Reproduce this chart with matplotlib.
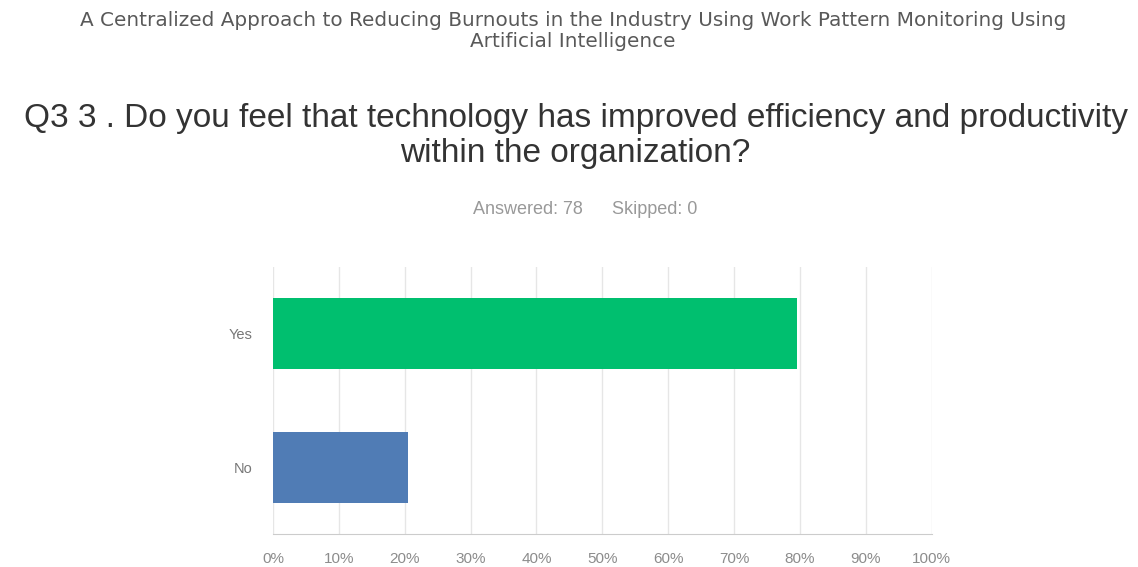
import numpy as np
import matplotlib
matplotlib.use("Agg")
import matplotlib.pyplot as plt
from matplotlib.ticker import FuncFormatter

# ....... Survey data ........

survey_title = ("A Centralized Approach to Reducing Burnouts in the Industry Using Work Pattern Monitoring Using\n"
                "Artificial Intelligence")
question = ("Q3 3 . Do you feel that technology has improved efficiency and productivity\n"
            "within the organization?")
answered = 78
skipped = 0

choices = ["Yes", "No"]
percents = [79.49, 20.51]
bar_colours = ["#00bf6f", "#507cb5"]
x_ticks = [0, 10, 20, 30, 40, 50, 60, 70, 80, 90, 100]

W, H = 1138, 567
fig = plt.figure(figsize=(W / 100, H / 100), dpi=100)

# --- Header text
fig.text(573 / W, 1 - 31 / H, survey_title, ha='center', va='center',
         fontsize=14.4, color='#595959', family='DejaVu Sans', linespacing=1.12)
fig.text(575.5 / W, 1 - 136 / H, question, ha='center', va='center',
         fontsize=24, color='#333333', family='Liberation Sans', linespacing=1.2)
fig.text(527.5 / W, 1 - 210 / H, f"Answered: {answered}", ha='center', va='center',
         fontsize=13, color='#999999', family='Liberation Sans')
fig.text(655 / W, 1 - 210 / H, f"Skipped: {skipped}", ha='center', va='center',
         fontsize=13, color='#999999', family='Liberation Sans')

# --- Bar chart
ax = fig.add_axes([273 / W, 33 / H, (931.7 - 273) / W, (534 - 267) / H])
y_pos = np.arange(len(choices))
ax.barh(y_pos, percents, height=0.53, color=bar_colours, zorder=3)

ax.set_ylim(1.5, -0.5)
ax.set_xlim(0, 100)
ax.set_yticks(y_pos)
ax.set_yticklabels(choices)
ax.set_xticks(x_ticks)
ax.xaxis.set_major_formatter(FuncFormatter(lambda v, p: f"{v:.0f}%"))

ax.grid(axis='x', color='#e6e6e6', linewidth=1, zorder=0)
for side in ['top', 'right', 'left']:
    ax.spines[side].set_visible(False)
ax.spines['bottom'].set_color('#cccccc')
ax.tick_params(axis='both', length=0, labelcolor='#8c8c8c')
ax.tick_params(axis='y', pad=15, labelsize=10.5, labelcolor='#777777')
ax.tick_params(axis='x', pad=13, labelsize=11)
for lbl in ax.get_xticklabels() + ax.get_yticklabels():
    lbl.set_family('Liberation Sans')

fig.savefig('out.png', dpi=100, facecolor='white')
